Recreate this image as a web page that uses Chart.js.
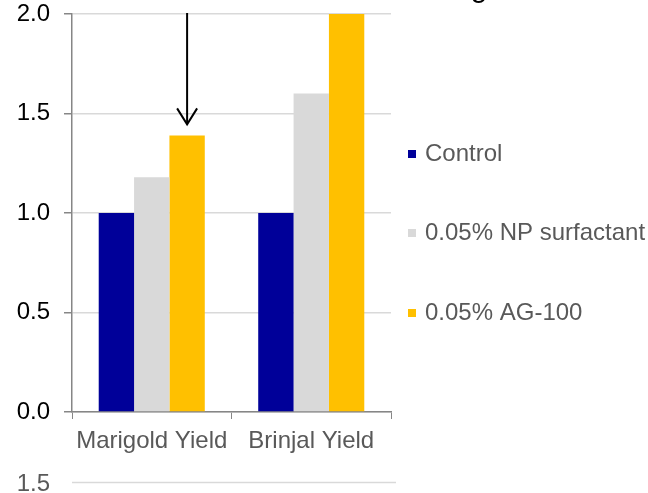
<!DOCTYPE html>
<html>
<head>
<meta charset="utf-8">
<script src="https://cdn.jsdelivr.net/npm/chart.js@4/dist/chart.umd.min.js"></script>
<style>
  html, body { margin: 0; padding: 0; background: #ffffff; }
  #wrap { width: 648px; height: 493px; position: relative; }
</style>
</head>
<body>
<div id="wrap"><canvas id="c" width="648" height="493"></canvas></div>
<script>
const categories = ['Marigold Yield', 'Brinjal Yield'];
const seriesNames = ['Control', '0.05% NP surfactant', '0.05% AG-100'];
const controlValues = [1.0, 1.0];
const npSurfactantValues = [1.18, 1.6];
const ag100Values = [1.39, 2.0];
const seriesColors = ['#000099', '#D9D9D9', '#FFC000'];
const yTickLabels = ['0.0', '0.5', '1.0', '1.5', '2.0'];
const arrowFrom = 2.0;   // arrow starts at top of axis
const arrowTo = 1.39;    // points to Marigold AG-100 bar
const lowerChartTickLabel = '1.5';

const FONT = '"Liberation Sans", Arial, sans-serif';

const extrasPlugin = {
  id: 'extras',
  afterDraw(chart) {
    const ctx = chart.ctx;
    const y = chart.scales.y;
    const area = chart.chartArea;
    ctx.save();
    // arrow over Marigold AG-100 bar
    const bar = chart.getDatasetMeta(2).data[0];
    const ax = bar.x;
    const y0 = y.getPixelForValue(arrowFrom) - 1;
    const y1 = y.getPixelForValue(arrowTo) - 11;
    ctx.strokeStyle = '#000';
    ctx.lineWidth = 2;
    ctx.beginPath();
    ctx.moveTo(ax, y0);
    ctx.lineTo(ax, y1);
    ctx.stroke();
    ctx.beginPath();
    ctx.moveTo(ax - 10, y1 - 16);
    ctx.lineTo(ax, y1);
    ctx.lineTo(ax + 10, y1 - 16);
    ctx.stroke();

    // custom legend
    ctx.font = '24px ' + FONT;
    ctx.textBaseline = 'middle';
    ctx.textAlign = 'left';
    const legendY = [154, 233, 313];
    chart.data.datasets.forEach((ds, i) => {
      ctx.fillStyle = ds.backgroundColor;
      ctx.fillRect(408, legendY[i] - 4, 8, 8);
      ctx.fillStyle = '#595959';
      ctx.fillText(ds.label, 425, legendY[i]);
    });

    // fragment of title letter at top (cropped)
    ctx.fillStyle = '#000';
    ctx.font = '30px ' + FONT;
    ctx.textAlign = 'center';
    ctx.textBaseline = 'alphabetic';
    ctx.fillText('g', 479, -3);

    // fragment of a lower chart
    ctx.font = '24px ' + FONT;
    ctx.textAlign = 'right';
    ctx.textBaseline = 'middle';
    ctx.fillStyle = '#595959';
    ctx.fillText(lowerChartTickLabel, 50, 484);
    ctx.strokeStyle = '#D9D9D9';
    ctx.lineWidth = 1.5;
    ctx.beginPath();
    ctx.moveTo(area.left, 482.5);
    ctx.lineTo(396, 482.5);
    ctx.stroke();
    ctx.restore();
  }
};

new Chart(document.getElementById('c'), {
  type: 'bar',
  data: {
    labels: categories,
    datasets: [
      { label: seriesNames[0], data: controlValues, backgroundColor: seriesColors[0] },
      { label: seriesNames[1], data: npSurfactantValues, backgroundColor: seriesColors[1] },
      { label: seriesNames[2], data: ag100Values, backgroundColor: seriesColors[2] }
    ]
  },
  options: {
    responsive: false,
    animation: false,
    devicePixelRatio: 1,
    layout: { padding: { top: 14, right: 257, bottom: 0, left: 0 } },
    plugins: { legend: { display: false }, tooltip: { enabled: false } },
    datasets: { bar: { categoryPercentage: 0.665, barPercentage: 1.0 } },
    scales: {
      x: {
        grid: { display: true, drawOnChartArea: false, drawTicks: true, tickLength: 7, color: '#868686', offset: true },
        border: { color: '#868686', width: 1.5 },
        ticks: { color: '#595959', font: { family: FONT, size: 24 }, padding: 8, maxRotation: 0 },
        afterFit(scale) { scale.height = 81; }
      },
      y: {
        min: 0, max: 2,
        grid: { color: '#D9D9D9', tickColor: '#868686', tickLength: 8, lineWidth: 1.5 },
        border: { color: '#868686', width: 1.5 },
        ticks: {
          stepSize: 0.5,
          color: '#000000',
          font: { family: FONT, size: 24 },
          padding: 14,
          callback: (v, i) => yTickLabels[i]
        },
        afterFit(scale) { scale.width = 72; scale.paddingTop = 0; scale.paddingBottom = 0; }
      }
    }
  },
  plugins: [extrasPlugin]
});
</script>
</body>
</html>
